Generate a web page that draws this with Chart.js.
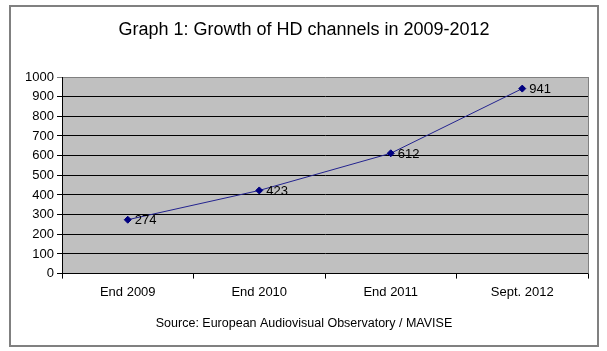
<!DOCTYPE html>
<html>
<head>
<meta charset="utf-8">
<script src="https://cdn.jsdelivr.net/npm/chart.js@4"></script>
<style>
  html, body { margin: 0; padding: 0; background: #fff; }
  #wrap { width: 607px; height: 351px; }
</style>
</head>
<body>
<div id="wrap"><canvas id="chart" width="607" height="351"></canvas></div>
<script>
// data
const periods = ['End 2009', 'End 2010', 'End 2011', 'Sept. 2012'];
const hdChannels = [274, 423, 612, 941];
const yTicks = [0, 100, 200, 300, 400, 500, 600, 700, 800, 900, 1000];

const titleText = 'Graph 1: Growth of HD channels in 2009-2012';
const sourceText = 'Source: European Audiovisual Observatory / MAVISE';

const FONT = '"Liberation Sans", Arial, sans-serif';

// grey plot area + frame round the whole picture
const framePlugin = {
    id: 'frame',
    beforeDraw(chart) {
        const ctx = chart.ctx;
        const a = chart.chartArea;
        ctx.save();
        ctx.fillStyle = '#fff';
        ctx.fillRect(0, 0, chart.width, chart.height);
        ctx.fillStyle = '#c0c0c0';
        ctx.fillRect(a.left, a.top, a.right - a.left, a.bottom - a.top);
        ctx.strokeStyle = '#808080';
        ctx.lineWidth = 2;
        ctx.strokeRect(10, 6, chart.width - 19, chart.height - 11);
        ctx.restore();
    },
    afterDatasetsDraw(chart) {
        const ctx = chart.ctx;
        const a = chart.chartArea;
        ctx.save();
        // right edge of the plot area
        ctx.strokeStyle = '#808080';
        ctx.lineWidth = 1;
        ctx.beginPath();
        ctx.moveTo(Math.round(a.right) + 0.5, a.top);
        ctx.lineTo(Math.round(a.right) + 0.5, a.bottom);
        ctx.stroke();
        // value labels next to each point
        const meta = chart.getDatasetMeta(0);
        ctx.fillStyle = '#000';
        ctx.font = '13px ' + FONT;
        ctx.textAlign = 'left';
        ctx.textBaseline = 'middle';
        meta.data.forEach((pt, i) => {
            ctx.fillText(String(hdChannels[i]), pt.x + 7, pt.y + 1);
        });
        ctx.restore();
    }
};

new Chart(document.getElementById('chart').getContext('2d'), {
    type: 'line',
    data: {
        labels: periods,
        datasets: [{
            label: 'HD channels',
            data: hdChannels,
            borderColor: '#23238f',
            borderWidth: 1,
            backgroundColor: '#000080',
            pointBackgroundColor: '#000080',
            pointBorderColor: '#000080',
            pointStyle: 'rectRot',
            pointRadius: 3.5,
            pointBorderWidth: 1,
            tension: 0,
            fill: false
        }]
    },
    options: {
        responsive: false,
        animation: false,
        layout: { padding: { left: 20, right: 19, top: 0, bottom: 0 } },
        plugins: {
            legend: { display: false },
            tooltip: { enabled: false },
            title: {
                display: true,
                text: titleText,
                color: '#000',
                font: { family: FONT, size: 18, weight: 'normal', lineHeight: 1.2 },
                padding: { top: 19, bottom: 36.4 }
            },
            subtitle: {
                display: true,
                position: 'bottom',
                text: sourceText,
                color: '#000',
                font: { family: FONT, size: 12.5, weight: 'normal', lineHeight: 1.2 },
                padding: { top: 6, bottom: 20.4 }
            }
        },
        scales: {
            x: {
                type: 'category',
                offset: true,
                grid: {
                    offset: true,
                    drawOnChartArea: false,
                    drawTicks: true,
                    tickLength: 5,
                    color: '#000'
                },
                border: { display: true, color: '#000', width: 1 },
                ticks: {
                    color: '#000',
                    padding: 6,
                    maxRotation: 0,
                    font: { family: FONT, size: 13 }
                },
                afterFit(scale) { scale.height = 36; }
            },
            y: {
                min: 0,
                max: 1000,
                afterBuildTicks(scale) { scale.ticks = yTicks.map(v => ({ value: v })); },
                grid: {
                    drawTicks: true,
                    tickLength: 5,
                    color: ctx => (ctx.tick && ctx.tick.value === 1000 ? '#808080' : '#000'),
                    lineWidth: 1
                },
                border: { display: true, color: '#000', width: 1 },
                ticks: {
                    color: '#000',
                    padding: 3,
                    font: { family: FONT, size: 13 },
                    callback: v => String(v)
                },
                afterFit(scale) { scale.width = 42; }
            }
        }
    },
    plugins: [framePlugin]
});
</script>
</body>
</html>
